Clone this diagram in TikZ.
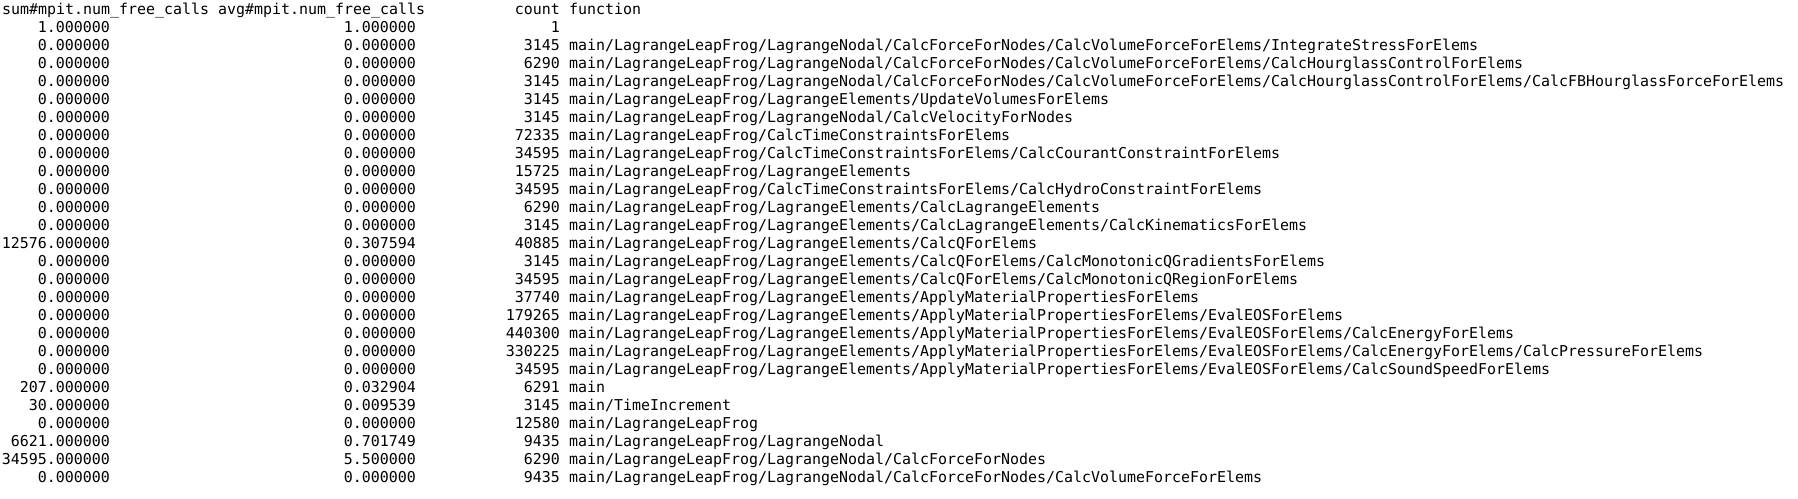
\documentclass[tikz,border=0pt]{standalone}
\usepackage{fontspec}
\newfontfamily\termfont{DejaVu Sans Mono}
\tikzset{
    term/.style = {
        font=\termfont\fontsize{14.95}{18}\selectfont,
        inner sep=0pt,
        text=black,
        },
    num/.style = {
        term,
        anchor=base east,
        },
    func/.style = {
        term,
        anchor=base west,
        },
}
% one line of the table: row, sum, avg, count, function
\newcommand{\callrow}[5]{%
    \node[num] (sum#1) at (110,{-14-18*#1}) {#2};
    \node[num] (avg#1) at (416,{-14-18*#1}) {#3};
    \node[num] (cnt#1) at (560,{-14-18*#1}) {#4};
    \node[func] (fn#1) at (569,{-14-18*#1}) {#5};
}

\begin{document}
\begin{tikzpicture}[x=1pt,y=1pt]
            \fill[white] (0,0) rectangle (1798,-498);
            \useasboundingbox (0,0) rectangle (1798,-498);

            \node[func] (sumhead) at (2,-14) {sum\#mpit.num\_free\_calls};
            \node[func] (avghead) at (218,-14) {avg\#mpit.num\_free\_calls};
            \node[num] (cnthead) at (560,-14) {count};
            \node[func] (fnhead) at (569,-14) {function};

            \node[num] (sum1) at (110,-32) {1.000000};
            \node[num] (avg1) at (416,-32) {1.000000};
            \node[num] (cnt1) at (560,-32) {1};

            \callrow{2}{0.000000}{0.000000}{3145}{main/LagrangeLeapFrog/LagrangeNodal/CalcForceForNodes/CalcVolumeForceForElems/IntegrateStressForElems}
            \callrow{3}{0.000000}{0.000000}{6290}{main/LagrangeLeapFrog/LagrangeNodal/CalcForceForNodes/CalcVolumeForceForElems/CalcHourglassControlForElems}
            \callrow{4}{0.000000}{0.000000}{3145}{main/LagrangeLeapFrog/LagrangeNodal/CalcForceForNodes/CalcVolumeForceForElems/CalcHourglassControlForElems/CalcFBHourglassForceForElems}
            \callrow{5}{0.000000}{0.000000}{3145}{main/LagrangeLeapFrog/LagrangeElements/UpdateVolumesForElems}
            \callrow{6}{0.000000}{0.000000}{3145}{main/LagrangeLeapFrog/LagrangeNodal/CalcVelocityForNodes}
            \callrow{7}{0.000000}{0.000000}{72335}{main/LagrangeLeapFrog/CalcTimeConstraintsForElems}
            \callrow{8}{0.000000}{0.000000}{34595}{main/LagrangeLeapFrog/CalcTimeConstraintsForElems/CalcCourantConstraintForElems}
            \callrow{9}{0.000000}{0.000000}{15725}{main/LagrangeLeapFrog/LagrangeElements}
            \callrow{10}{0.000000}{0.000000}{34595}{main/LagrangeLeapFrog/CalcTimeConstraintsForElems/CalcHydroConstraintForElems}
            \callrow{11}{0.000000}{0.000000}{6290}{main/LagrangeLeapFrog/LagrangeElements/CalcLagrangeElements}
            \callrow{12}{0.000000}{0.000000}{3145}{main/LagrangeLeapFrog/LagrangeElements/CalcLagrangeElements/CalcKinematicsForElems}
            \callrow{13}{12576.000000}{0.307594}{40885}{main/LagrangeLeapFrog/LagrangeElements/CalcQForElems}
            \callrow{14}{0.000000}{0.000000}{3145}{main/LagrangeLeapFrog/LagrangeElements/CalcQForElems/CalcMonotonicQGradientsForElems}
            \callrow{15}{0.000000}{0.000000}{34595}{main/LagrangeLeapFrog/LagrangeElements/CalcQForElems/CalcMonotonicQRegionForElems}
            \callrow{16}{0.000000}{0.000000}{37740}{main/LagrangeLeapFrog/LagrangeElements/ApplyMaterialPropertiesForElems}
            \callrow{17}{0.000000}{0.000000}{179265}{main/LagrangeLeapFrog/LagrangeElements/ApplyMaterialPropertiesForElems/EvalEOSForElems}
            \callrow{18}{0.000000}{0.000000}{440300}{main/LagrangeLeapFrog/LagrangeElements/ApplyMaterialPropertiesForElems/EvalEOSForElems/CalcEnergyForElems}
            \callrow{19}{0.000000}{0.000000}{330225}{main/LagrangeLeapFrog/LagrangeElements/ApplyMaterialPropertiesForElems/EvalEOSForElems/CalcEnergyForElems/CalcPressureForElems}
            \callrow{20}{0.000000}{0.000000}{34595}{main/LagrangeLeapFrog/LagrangeElements/ApplyMaterialPropertiesForElems/EvalEOSForElems/CalcSoundSpeedForElems}
            \callrow{21}{207.000000}{0.032904}{6291}{main}
            \callrow{22}{30.000000}{0.009539}{3145}{main/TimeIncrement}
            \callrow{23}{0.000000}{0.000000}{12580}{main/LagrangeLeapFrog}
            \callrow{24}{6621.000000}{0.701749}{9435}{main/LagrangeLeapFrog/LagrangeNodal}
            \callrow{25}{34595.000000}{5.500000}{6290}{main/LagrangeLeapFrog/LagrangeNodal/CalcForceForNodes}
            \callrow{26}{0.000000}{0.000000}{9435}{main/LagrangeLeapFrog/LagrangeNodal/CalcForceForNodes/CalcVolumeForceForElems}
        \end{tikzpicture}
\end{document}
